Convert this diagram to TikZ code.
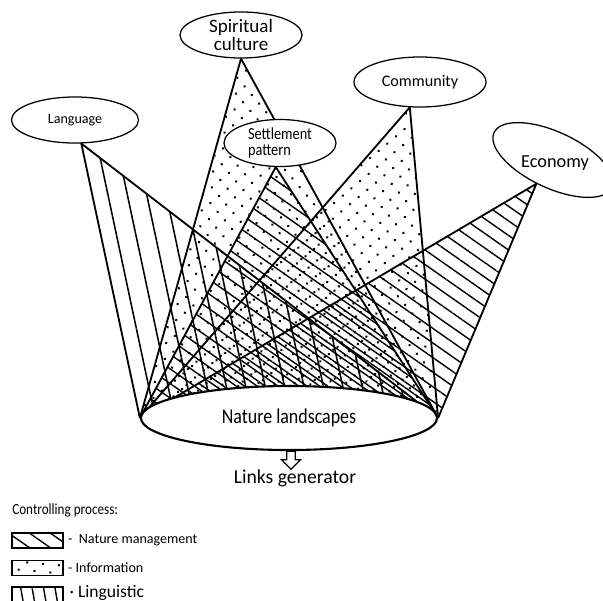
\documentclass[tikz,border=0pt]{standalone}
\usepackage{fontspec}
\setmainfont{Carlito}
\newfontfamily\narrowfont[FakeStretch=0.85]{Carlito}
\usetikzlibrary{positioning,shapes.geometric,shapes.arrows,patterns.meta,backgrounds}

\begin{document}
\begin{tikzpicture}[x=0.025cm,y=-0.025cm,
    bubble/.style={ellipse,draw,fill=white,line width=0.9pt,inner sep=0pt},
    edge/.style={line width=1.3pt},
    keybox/.style={draw,line width=1pt,minimum width=1.275cm,minimum height=0.375cm,inner sep=0pt},
    keytext/.style={right=3pt of #1,inner sep=0pt,font=\fontsize{10}{12}\selectfont},
    managed/.style={pattern={Lines[angle=-35,distance=8.5pt,line width=1pt]}},
    informed/.style={pattern={Dots[angle=40,distance=8pt,radius=1pt]}},
    spoken/.style={pattern={Lines[angle=-78,distance=13.5pt,line width=1.1pt]}}]
    \useasboundingbox (0,0) rectangle (603,600);

    % Sources of the links
    \node[bubble,minimum width=3.175cm,minimum height=1.15cm,font=\fontsize{10}{11}\selectfont] (lang) at (75,120) {Language};
    \node[bubble,minimum width=3.05cm,minimum height=1.15cm,align=center,font=\fontsize{13.5}{13}\selectfont] (spir) at (241,35) {Spiritual\\culture};
    \node[bubble,minimum width=2.8cm,minimum height=1.175cm,align=left,font=\narrowfont\fontsize{12}{11.5}\selectfont] (setl) at (280,143) {Settlement\\pattern};
    \node[bubble,minimum width=3.3cm,minimum height=1.25cm,font=\fontsize{11.5}{13}\selectfont] (comm) at (420,82) {Community};
    \node[bubble,minimum width=3.25cm,minimum height=1.4cm,rotate=-25] (econ) at (553,160) {};
    \node[font=\fontsize{13}{15}\selectfont] (econt) at (555,163) {Economy};

    % Nature landscapes at the base
    \node[bubble,line width=1.5pt,minimum width=7.4cm,minimum height=1.6cm,font=\narrowfont\fontsize{15}{17}\selectfont] (land) at (289,418) {Nature landscapes};
    \node[single arrow,draw,line width=0.9pt,shape border rotate=270,inner sep=2.6pt,
          single arrow head extend=3.6pt,minimum height=0.45cm] (gen arrow) at (291,458) {};
    \node[font=\fontsize{14}{16}\selectfont] (gen) at (295,478) {Links generator};

    % Triangles from every source down to the landscapes
    \begin{scope}[on background layer]
        \fill[spoken] (lang.-75) -- (land.west) -- (land.east) -- cycle;
        \fill[informed] (spir.south) -- (land.west) -- (land.east) -- cycle;
        \fill[pattern={Dots[angle=40,distance=8pt,radius=1pt,xshift=3pt,yshift=2pt]}] (comm.-112) -- (land.west) -- (land.east) -- cycle;
        \fill[managed] (setl.-100) -- (land.west) -- (land.east) -- cycle;
        \fill[pattern={Lines[angle=-35,distance=8.5pt,line width=1pt,yshift=4pt]}] (econ.-100) -- (land.west) -- (land.east) -- cycle;
        \foreach \src in {lang.-75,spir.south,setl.-100,comm.-112,econ.-100}
            \draw[edge] (land.west) -- (\src) -- (land.east);
    \end{scope}

    % Legend
    \node[anchor=west,inner sep=0pt,font=\narrowfont\fontsize{11}{13}\selectfont] (ctrl) at (12,510) {Controlling process:};
    \node[keybox,managed] (key1) at (37.5,540.5) {};
    \node[keytext=key1] (key1t) {-\ \ Nature management};
    \node[keybox,informed] (key2) at (37.5,568) {};
    \node[keytext=key2] (key2t) {- Information};
    \node[keybox,minimum height=0.5cm,pattern={Lines[angle=-80,distance=8pt,line width=1pt]}] (key3) at (37.5,597) {};
    \node[right=4pt of key3,yshift=0.1cm,inner sep=0pt,font=\fontsize{12.5}{14}\selectfont] (key3t) {· Linguistic};
\end{tikzpicture}
\end{document}
